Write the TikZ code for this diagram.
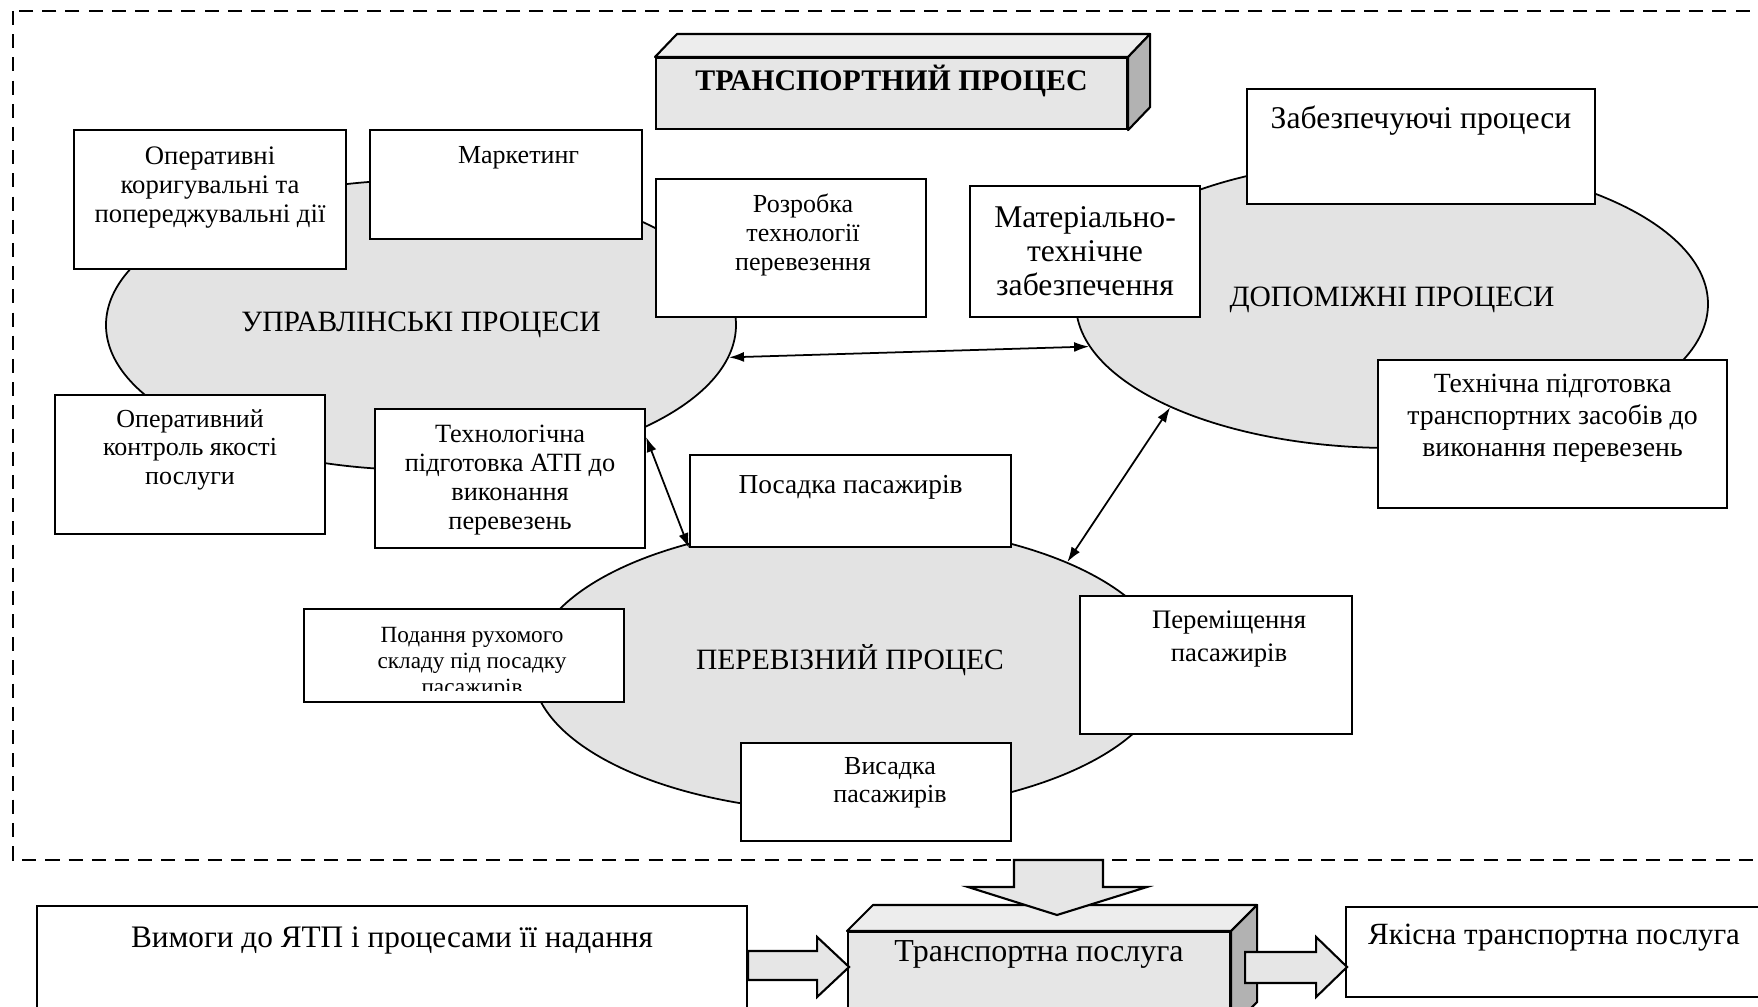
\documentclass[tikz,border=0pt]{standalone}
\usepackage{fontspec}
\setmainfont{Liberation Serif}
\usetikzlibrary{
  arrows.meta,
  shapes.geometric,
  calc
}
\definecolor{ellgray}{RGB}{227,227,227}
\definecolor{facegray}{RGB}{230,230,230}
\definecolor{sidegray}{RGB}{178,178,178}
\newcommand{\setfs}[2]{\fontsize{#1}{#2}\selectfont}
\newcommand{\boxtxt}[4]{\parbox[c][#2][t]{#1}{\centering\rule{0pt}{#3}#4}}

\begin{document}
\begin{tikzpicture}[
  x=0.1mm, y=-0.1mm,
  procbox/.style={draw, fill=white, line width=0.6pt, inner sep=0pt, anchor=north west},
  process/.style={ellipse, draw, fill=ellgray, line width=0.5pt, inner sep=0pt},
  group label/.style={inner sep=0pt, font=\setfs{8.4}{10}},
  link/.style={{Latex[length=1.5mm,width=1mm]}-{Latex[length=1.5mm,width=1mm]}, line width=0.5pt},
  front face/.style={draw, fill=facegray, line width=0.6pt, inner sep=0pt, anchor=north west},
  top face/.style={draw, fill=facegray!70!white, line width=0.6pt, line join=round},
  side face/.style={draw, fill=sidegray, line width=0.6pt, line join=round},
  block arrow/.style={draw, fill=facegray, line width=0.6pt},
]
\clip (0,0) rectangle (1758,1007);

% Outer dashed frame
\draw[dash pattern=on 4pt off 2.6pt, line width=0.6pt] (13,11) rectangle (1830,860);

% Title block (3D)
\node[front face, font=\bfseries\setfs{8.5}{10}] (title) at (655,57)
  {\boxtxt{4.71cm}{0.71cm}{0.32cm}{ТРАНСПОРТНИЙ ПРОЦЕС}};
\draw[top face] (title.north west) -- ++(22,-23)
  -- ([shift={(22,-23)}]title.north east) -- (title.north east) -- cycle;
\draw[side face] (title.north east) -- ++(22,-23)
  -- ([shift={(22,-23)}]title.south east) -- (title.south east) -- cycle;

% Process groups
\node[process, minimum width=6.30cm, minimum height=2.90cm,
  label={[group label]center:УПРАВЛІНСЬКІ ПРОЦЕСИ}] (upr) at (421,325) {};
\node[process, minimum width=6.32cm, minimum height=2.88cm,
  label={[group label, yshift=0.45mm]center:ДОПОМІЖНІ ПРОЦЕСИ}] (dop) at (1392,304) {};
\node[process, minimum width=6.36cm, minimum height=2.88cm,
  label={[group label, yshift=0.8mm]center:ПЕРЕВІЗНИЙ ПРОЦЕС}] (perev) at (850,668) {};

% Management boxes
\node[procbox, font=\setfs{7.6}{8.3}] (opdii) at (73,129)
  {\boxtxt{2.72cm}{1.39cm}{0.34cm}{Оперативні\\ коригувальні та\\ попереджувальні дії}};
\node[procbox, font=\setfs{7.4}{8.3}] (market) at (369,129)
  {\boxtxt{2.72cm}{1.09cm}{0.33cm}{\hspace*{0.25cm}Маркетинг}};
\node[procbox, font=\setfs{7.4}{8.3}] (rozrob) at (655,178)
  {\boxtxt{2.70cm}{1.38cm}{0.33cm}{\hspace*{0.24cm}Розробка\\ \hspace*{0.24cm}технології\\ \hspace*{0.24cm}перевезення}};
\node[procbox, font=\setfs{7.4}{8.2}] (opkontr) at (54,394)
  {\boxtxt{2.70cm}{1.39cm}{0.32cm}{Оперативний\\ контроль якості\\ послуги}};
\node[procbox, font=\setfs{7.5}{8.3}] (tehnol) at (374,408)
  {\boxtxt{2.70cm}{1.39cm}{0.33cm}{Технологічна\\ підготовка АТП до\\ виконання\\ перевезень}};

% Support boxes
\node[procbox, font=\setfs{9}{9.7}] (mater) at (969,185)
  {\boxtxt{2.30cm}{1.31cm}{0.41cm}{Матеріально-\\ технічне\\ забезпечення}};
\node[procbox, font=\setfs{9}{10}] (zabez) at (1246,88)
  {\boxtxt{3.48cm}{1.15cm}{0.39cm}{Забезпечуючі процеси}};
\node[procbox, font=\setfs{7.9}{9.1}] (tehpid) at (1377,359)
  {\boxtxt{3.49cm}{1.48cm}{0.32cm}{Технічна підготовка\\ транспортних засобів до\\ виконання перевезень}};

% Carriage boxes
\node[procbox, font=\setfs{7.8}{9}] (posad) at (689,454)
  {\boxtxt{3.21cm}{0.92cm}{0.38cm}{Посадка пасажирів}};
\node[procbox, minimum width=3.20cm, minimum height=0.93cm] (podan) at (303,608) {};
\begin{scope}
  \clip (podan.north west) rectangle ([yshift=1.3mm]podan.south east);
  \node[anchor=north, inner sep=0pt, align=center, font=\setfs{6.6}{7.4}] (podantxt)
    at ([xshift=0.8mm, yshift=-1.9mm]podan.north) {Подання рухомого\\ складу під посадку\\ пасажирів};
\end{scope}
\node[procbox, font=\setfs{7.6}{9.4}] (perem) at (1079,595)
  {\boxtxt{2.72cm}{1.38cm}{0.32cm}{\hspace*{0.26cm}Переміщення\\ \hspace*{0.26cm}пасажирів}};
\node[procbox, font=\setfs{7.4}{8}] (visad) at (740,742)
  {\boxtxt{2.70cm}{0.98cm}{0.31cm}{\hspace*{0.28cm}Висадка\\ \hspace*{0.28cm}пасажирів}};

% Links between groups
\draw[link] (upr.-6) -- (dop.188);
\draw[link] ([yshift=-2.9mm]tehnol.north east) -- (posad.south west);
\draw[link] (dop.205) -- (perev.26);

% Result row
\node[procbox, font=\setfs{8.9}{10}] (vimogy) at (36,905)
  {\boxtxt{7.10cm}{1.20cm}{0.41cm}{Вимоги до ЯТП і процесами її надання}};
\node[front face, font=\setfs{9.1}{10}] (poslug) at (847,931)
  {\boxtxt{3.82cm}{0.95cm}{0.29cm}{Транспортна послуга}};
\draw[top face] (poslug.north west) -- ++(26,-26)
  -- ([shift={(26,-26)}]poslug.north east) -- (poslug.north east) -- cycle;
\draw[side face] (poslug.north east) -- ++(26,-26)
  -- ([shift={(26,-26)}]poslug.south east) -- (poslug.south east) -- cycle;
\node[procbox, font=\setfs{8.8}{10}] (yakisna) at (1345,906)
  {\boxtxt{4.16cm}{0.90cm}{0.37cm}{Якісна транспортна послуга}};

% Block arrows
\draw[block arrow] (1014,860) -- (1103,860) -- (1103,887) -- (1147,887)
  -- (1057,915) -- (968,887) -- (1014,887) -- cycle;
\draw[block arrow] ([shift={(0,46)}]vimogy.north east) -- ++(69,0) -- ++(0,-14)
  -- ++(32,30) -- ++(-32,30) -- ++(0,-17) -- ++(-69,0) -- cycle;
\draw[block arrow] ([shift={(14,21)}]poslug.north east) -- ++(71,0) -- ++(0,-15)
  -- ++(31,30) -- ++(-31,30) -- ++(0,-14) -- ++(-71,0) -- cycle;

\end{tikzpicture}
\end{document}
